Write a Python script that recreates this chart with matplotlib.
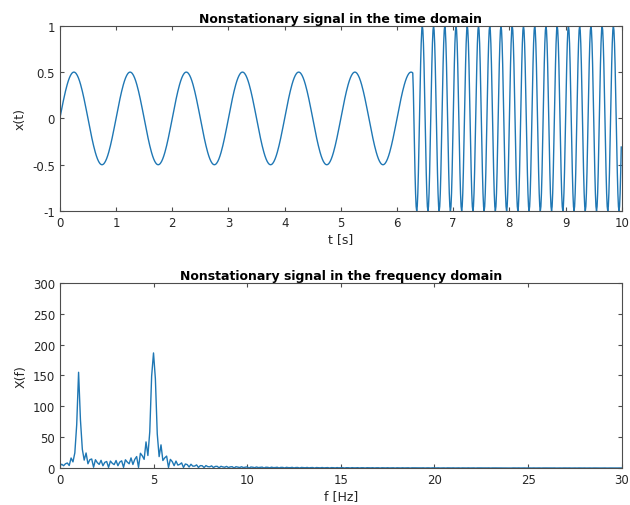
import numpy as np
import matplotlib
matplotlib.use("Agg")
import matplotlib.pyplot as plt

# signal parameters
fs = 100.0            # samples per second
duration = 10.0       # seconds
t_switch = 2 * np.pi  # where the signal changes (~6.28 s)
amp1, freq1 = 0.5, 1.0
amp2, freq2 = 1.0, 5.0

t = np.arange(0, duration, 1 / fs)
x = np.where(t < t_switch,
             amp1 * np.sin(2 * np.pi * freq1 * t),
             amp2 * np.sin(2 * np.pi * freq2 * t))

X = np.abs(np.fft.fft(x))
f = np.arange(len(x)) * fs / len(x)

line_color = "#1f77b4"
ax_color = "#4d4d4d"
text_color = "#262626"

plt.rcParams["font.family"] = "DejaVu Sans"
fig = plt.figure(figsize=(6.3, 5.06), dpi=100)
ax1 = fig.add_axes([0.095, 0.581, 0.892, 0.366])
ax2 = fig.add_axes([0.095, 0.073, 0.892, 0.366])


def style(ax):
    for s in ax.spines.values():
        s.set_color(ax_color)
        s.set_linewidth(0.8)
    ax.tick_params(direction="in", top=True, right=True, length=3,
                   color=ax_color, labelcolor=text_color, labelsize=8.5)


ax1.plot(t, x, color=line_color, lw=1.0)
ax1.set_xlim(0, 10)
ax1.set_ylim(-1, 1)
ax1.set_xticks(np.arange(0, 11, 1))
ax1.set_yticks([-1, -0.5, 0, 0.5, 1])
ax1.set_yticklabels(["-1", "-0.5", "0", "0.5", "1"])
ax1.set_xlabel("t [s]", fontsize=9, color=text_color, labelpad=2)
ax1.set_ylabel("x(t)", fontsize=9, color=text_color, labelpad=4)
ax1.set_title("Nonstationary signal in the time domain", fontsize=9,
              fontweight="bold", pad=3)
style(ax1)

ax2.plot(f, X, color=line_color, lw=1.0)
ax2.set_xlim(0, 30)
ax2.set_ylim(0, 300)
ax2.set_xticks(np.arange(0, 31, 5))
ax2.set_yticks(np.arange(0, 301, 50))
ax2.set_xlabel("f [Hz]", fontsize=9, color=text_color, labelpad=2)
ax2.set_ylabel("X(f)", fontsize=9, color=text_color, labelpad=4)
ax2.set_title("Nonstationary signal in the frequency domain", fontsize=9,
              fontweight="bold", pad=3)
style(ax2)

fig.savefig("out.png", dpi=100, facecolor="white")
